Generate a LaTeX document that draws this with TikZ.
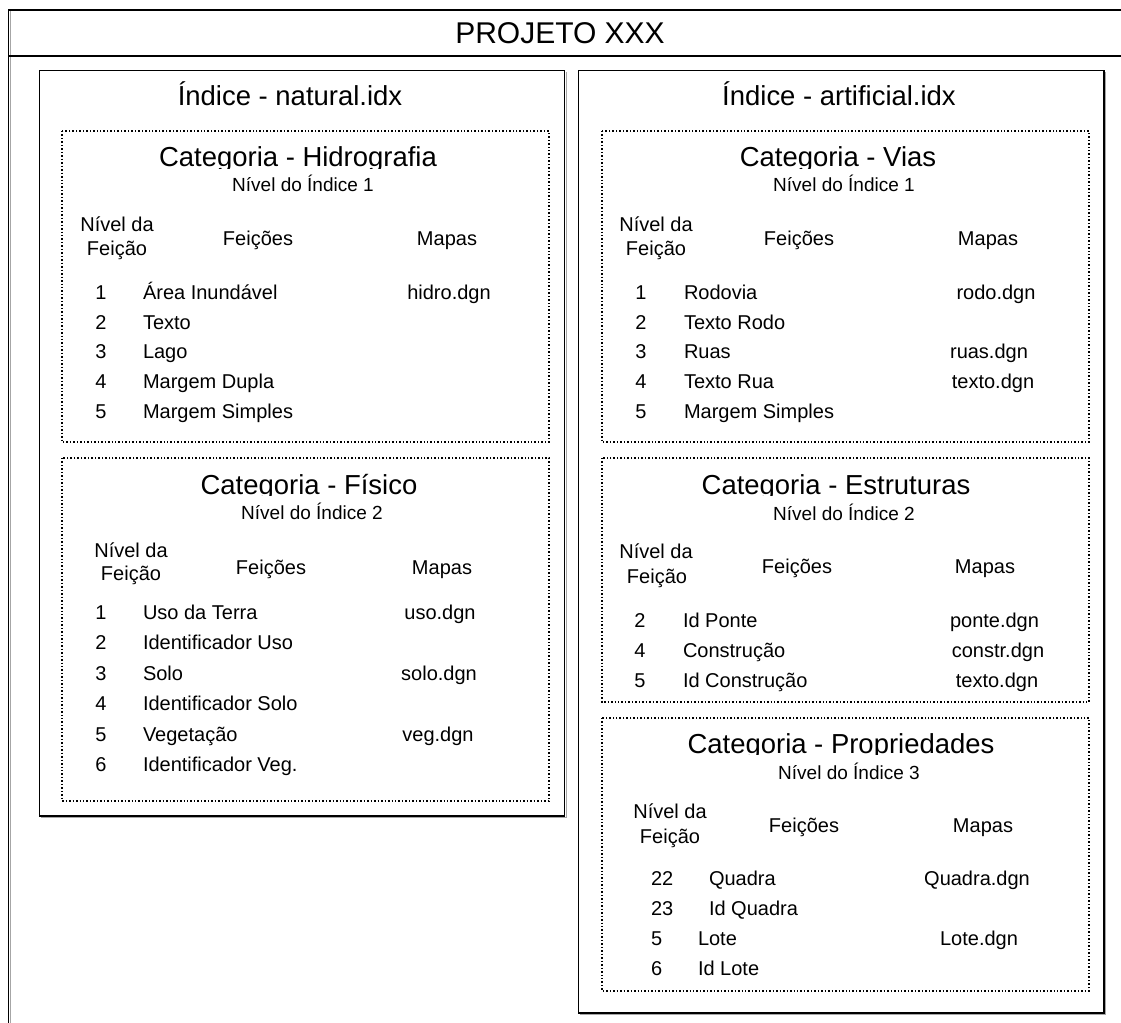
\documentclass[tikz,border=0pt]{standalone}
\usepackage{fontspec}
\setmainfont{Liberation Sans}

% category heading whose descenders are cut off just below the baseline
\newcommand{\cattitle}[4]{%
  \begin{scope}
    \clip (#2-240,#3-40) rectangle (#2+240,#3+1.5);
    \node[cat,anchor=base] (#1) at (#2,#3) {#4};
  \end{scope}}
% one feature row: name prefix, baseline, x of number, number, x of name, name, x of map, map
\newcommand{\featrow}[8]{%
  \node[body,anchor=base] (#1n) at (#3,#2) {#4};
  \node[body,anchor=base west] (#1f) at (#5,#2) {#6};
  \node[body,anchor=base] (#1m) at (#7,#2) {#8};}
% one feature row without a map file
\newcommand{\featonly}[6]{%
  \node[body,anchor=base] (#1n) at (#3,#2) {#4};
  \node[body,anchor=base west] (#1f) at (#5,#2) {#6};}

\begin{document}
\begin{tikzpicture}[x=0.75pt,y=-0.75pt,
  frame/.style={line width=1.2pt,black},
  shade/.style={line width=0.9pt,black!35},
  boxline/.style={line width=1.1pt,black},
  dotbox/.style={line width=1.1pt,black,dash pattern=on 1.1pt off 1.5pt},
  txt/.style={inner sep=0pt,outer sep=0pt},
  head/.style={txt,font=\fontsize{22.5pt}{27pt}\selectfont},
  ttl/.style={txt,font=\fontsize{20.6pt}{24pt}\selectfont},
  cat/.style={txt,font=\fontsize{20.6pt}{24pt}\selectfont},
  lvl/.style={txt,font=\fontsize{14.25pt}{17pt}\selectfont},
  body/.style={txt,font=\fontsize{15pt}{18pt}\selectfont}]

\useasboundingbox (0,0) rectangle (1121,1023);

% project frame: top rule, heading rule and left side
\draw[shade] (10.2,11) -- (10.2,1023);
\draw[frame] (1121,10) -- (8.5,10) -- (8.5,1023);
\draw[frame] (8.5,56) -- (1121,56);
\node[head,anchor=base] (proj) at (560,44) {PROJETO XXX};

% index boxes
\draw[shade] (566.1,72) -- (566.1,817.4) -- (41,817.4);
\draw[boxline] (39.5,70.7) rectangle (564.7,816);
\draw[shade] (1105.4,72) -- (1105.4,1014.4) -- (580,1014.4);
\draw[boxline] (578.7,70.7) rectangle (1104,1013);

\node[ttl,anchor=base] (idxN) at (290,106) {Índice - natural.idx};
\node[ttl,anchor=base] (idxA) at (839,106) {Índice - artificial.idx};

% category boxes
\draw[dotbox] (62,131) rectangle (549,442);
\draw[dotbox] (62,458) rectangle (549,801);
\draw[dotbox] (602,131) rectangle (1089,442);
\draw[dotbox] (602,458) rectangle (1089,702);
\draw[dotbox] (602,718) rectangle (1089,991);

% ---- Hidrografia
\cattitle{catH}{298}{167}{Categoria - Hidrografia}
\node[lvl,anchor=base] (lvH) at (303,192) {Nível do Índice 1};
\node[body,anchor=base] (hHa) at (117,232) {Nível da};
\node[body,anchor=base] (hHb) at (117,256) {Feição};
\node[body,anchor=base] (hHf) at (258,246) {Feições};
\node[body,anchor=base] (hHm) at (447,246) {Mapas};
\featrow{hA}{300}{101}{1}{143}{Área Inundável}{449}{hidro.dgn}
\featonly{hB}{329.5}{101}{2}{143}{Texto}
\featonly{hC}{359}{101}{3}{143}{Lago}
\featonly{hD}{389}{101}{4}{143}{Margem Dupla}
\featonly{hE}{419}{101}{5}{143}{Margem Simples}

% ---- Físico
\cattitle{catF}{309}{494}{Categoria - Físico}
\node[lvl,anchor=base] (lvF) at (312,519) {Nível do Índice 2};
\node[body,anchor=base] (hFa) at (131,557) {Nível da};
\node[body,anchor=base] (hFb) at (131,580) {Feição};
\node[body,anchor=base] (hFf) at (271,574) {Feições};
\node[body,anchor=base] (hFm) at (442,574) {Mapas};
\featrow{fA}{619}{101}{1}{143}{Uso da Terra}{440}{uso.dgn}
\featonly{fB}{649.5}{101}{2}{143}{Identificador Uso}
\featrow{fC}{680}{101}{3}{143}{Solo}{439}{solo.dgn}
\featonly{fD}{710.5}{101}{4}{143}{Identificador Solo}
\featrow{fE}{741}{101}{5}{143}{Vegetação}{438}{veg.dgn}
\featonly{fF}{771.5}{101}{6}{143}{Identificador Veg.}

% ---- Vias
\cattitle{catV}{838}{167}{Categoria - Vias}
\node[lvl,anchor=base] (lvV) at (844,192) {Nível do Índice 1};
\node[body,anchor=base] (hVa) at (656,232) {Nível da};
\node[body,anchor=base] (hVb) at (656,256) {Feição};
\node[body,anchor=base] (hVf) at (799,246) {Feições};
\node[body,anchor=base] (hVm) at (988,246) {Mapas};
\featrow{vA}{300}{641}{1}{684}{Rodovia}{996}{rodo.dgn}
\featonly{vB}{329.5}{641}{2}{684}{Texto Rodo}
\featrow{vC}{359}{641}{3}{684}{Ruas}{989}{ruas.dgn}
\featrow{vD}{389}{641}{4}{684}{Texto Rua}{993}{texto.dgn}
\featonly{vE}{419}{641}{5}{684}{Margem Simples}

% ---- Estruturas
\cattitle{catE}{836}{494}{Categoria - Estruturas}
\node[lvl,anchor=base] (lvE) at (844,520) {Nível do Índice 2};
\node[body,anchor=base] (hEa) at (656,558) {Nível da};
\node[body,anchor=base] (hEb) at (657,583) {Feição};
\node[body,anchor=base] (hEf) at (797,573) {Feições};
\node[body,anchor=base] (hEm) at (985,573) {Mapas};
\featrow{eA}{627}{640}{2}{683}{Id Ponte}{994.5}{ponte.dgn}
\featrow{eB}{657}{640}{4}{683}{Construção}{998}{constr.dgn}
\featrow{eC}{687}{640}{5}{683}{Id Construção}{997}{texto.dgn}

% ---- Propriedades
\cattitle{catP}{841}{753}{Categoria - Propriedades}
\node[lvl,anchor=base] (lvP) at (849,779) {Nível do Índice 3};
\node[body,anchor=base] (hPa) at (670,818) {Nível da};
\node[body,anchor=base] (hPb) at (670,843) {Feição};
\node[body,anchor=base] (hPf) at (804,832) {Feições};
\node[body,anchor=base] (hPm) at (983,832) {Mapas};
\node[body,anchor=base west] (pAn) at (651,885) {22};
\node[body,anchor=base west] (pAf) at (709,885) {Quadra};
\node[body,anchor=base] (pAm) at (977,885) {Quadra.dgn};
\node[body,anchor=base west] (pBn) at (651,915) {23};
\node[body,anchor=base west] (pBf) at (709,915) {Id Quadra};
\node[body,anchor=base west] (pCn) at (651,945) {5};
\node[body,anchor=base west] (pCf) at (698,945) {Lote};
\node[body,anchor=base] (pCm) at (979,945) {Lote.dgn};
\node[body,anchor=base west] (pDn) at (651,975) {6};
\node[body,anchor=base west] (pDf) at (698,975) {Id Lote};
\end{tikzpicture}
\end{document}
